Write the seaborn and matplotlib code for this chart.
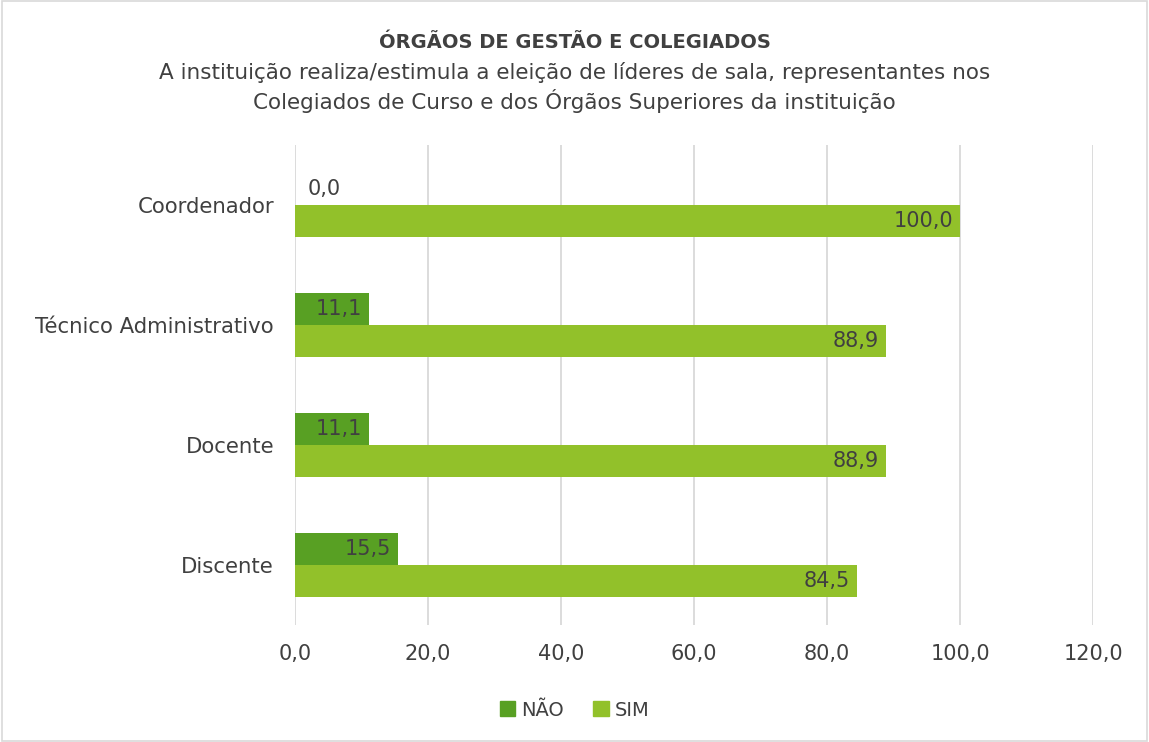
import matplotlib
matplotlib.use("Agg")
import matplotlib.pyplot as plt
import seaborn as sns
import pandas as pd
from matplotlib.patches import Rectangle

categories = ["Coordenador", "Técnico Administrativo", "Docente", "Discente"]
nao_values = [0.0, 11.1, 11.1, 15.5]
sim_values = [100.0, 88.9, 88.9, 84.5]
series = ["NÃO", "SIM"]
colors = ["#58A023", "#92C12A"]
xticks = [0, 20, 40, 60, 80, 100, 120]

df = pd.DataFrame({
    "cat": categories * 2,
    "serie": [series[0]] * 4 + [series[1]] * 4,
    "val": nao_values + sim_values,
})

sns.set_theme(style="white")
plt.rcParams["font.family"] = ["DejaVu Sans"]
txt = "#404040"

fig = plt.figure(figsize=(11.49, 7.42), dpi=100)
ax = fig.add_axes([0.2567, 0.1577, 0.6946, 0.6469])

sns.barplot(data=df, y="cat", x="val", hue="serie", order=categories,
            hue_order=series, palette=colors, width=0.535, ax=ax,
            orient="h", saturation=1, legend=False, linewidth=0)

ax.set_xlim(0, 120)
ax.set_xticks(xticks)
ax.set_xticklabels([f"{v:.1f}".replace(".", ",") for v in xticks], fontsize=15, color=txt)
ax.tick_params(axis="y", labelsize=15.3, labelcolor=txt, length=0, pad=15)
ax.tick_params(axis="x", length=0, pad=14)
ax.set_xlabel("")
ax.set_ylabel("")
ax.set_ylim(3.5, -0.5)
for s in ax.spines.values():
    s.set_visible(False)
ax.grid(axis="x", color="#D9D9D9", linewidth=1.3)
ax.set_axisbelow(True)

for p in ax.patches:
    w = p.get_width()
    if p.get_height() <= 0:
        continue
    yc = p.get_y() + p.get_height() / 2
    lab = f"{w:.1f}".replace(".", ",")
    if w > 0:
        ax.annotate(lab, (w, yc), xytext=(-5, 0), textcoords="offset points",
                    ha="right", va="center", fontsize=15, color=txt)
    else:
        ax.annotate(lab, (w, yc), xytext=(9, 0), textcoords="offset points",
                    ha="left", va="center", fontsize=15, color=txt)

handles = [Rectangle((0, 0), 1, 1, color=c) for c in colors]
fig.legend(handles, series, loc="center", bbox_to_anchor=(0.5, 0.043), ncol=2,
           frameon=False, fontsize=14, labelcolor=txt, handlelength=0.8,
           handleheight=0.8, handletextpad=0.3, columnspacing=1.5)

fig.text(0.5, 0.943, "ÓRGÃOS DE GESTÃO E COLEGIADOS", ha="center", va="center",
         fontsize=14, fontweight="bold", color=txt)
fig.text(0.5, 0.902, "A instituição realiza/estimula a eleição de líderes de sala, representantes nos",
         ha="center", va="center", fontsize=15.5, color=txt)
fig.text(0.5, 0.864, "Colegiados de Curso e dos Órgãos Superiores da instituição",
         ha="center", va="center", fontsize=15.5, color=txt)

fig.patches.append(Rectangle((0.002, 0.002), 0.996, 0.996, transform=fig.transFigure,
                             fill=False, edgecolor="#D9D9D9", linewidth=1.2))

fig.savefig("out.png", dpi=100, facecolor="white")
